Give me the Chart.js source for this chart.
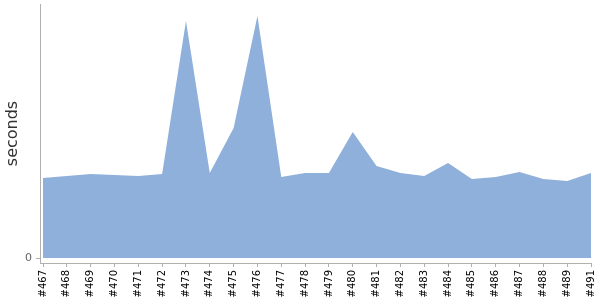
<!DOCTYPE html>
<html>
<head>
<meta charset="utf-8">
<script src="https://cdn.jsdelivr.net/npm/chart.js@4"></script>
<style>
  html, body { margin: 0; padding: 0; background: #fff; }
  #wrap { width: 600px; height: 300px; }
</style>
</head>
<body>
<div id="wrap"><canvas id="buildChart"></canvas></div>
<script>
// build durations (#490 is not in the list)
const buildLabels = ['#467', '#468', '#469', '#470', '#471', '#472', '#473', '#474',
    '#475', '#476', '#477', '#478', '#479', '#480', '#481', '#482', '#483', '#484',
    '#485', '#486', '#487', '#488', '#489', '#491'];
const buildSeconds = [80, 82, 84, 83, 82, 84, 237, 85, 130, 242, 81, 85, 85, 126,
    92, 85, 82, 95, 79, 81, 86, 79, 77, 85];
const yTicks = [0];

const fillColor = 'rgb(143, 176, 218)';
const axisColor = '#b0b0b0';

const points = buildSeconds.map((v, i) => ({ x: i, y: v }));

const ctx = document.getElementById('buildChart').getContext('2d');

const buildChart = new Chart(ctx, {
    type: 'line',
    data: {
        datasets: [{
            label: 'seconds',
            data: points,
            backgroundColor: fillColor,
            borderColor: fillColor,
            borderWidth: 0,
            pointRadius: 0,
            fill: 'origin',
            tension: 0
        }]
    },
    options: {
        responsive: true,
        maintainAspectRatio: false,
        animation: false,
        layout: { padding: { top: 4, right: 9, left: 0, bottom: 0 } },
        plugins: {
            legend: { display: false },
            tooltip: { enabled: false }
        },
        scales: {
            x: {
                type: 'linear',
                min: -0.126,
                max: buildLabels.length - 1,
                afterBuildTicks: (scale) => {
                    scale.ticks = buildLabels.map((l, i) => ({ value: i }));
                },
                afterFit: (scale) => {
                    scale.height = 37;
                    scale.paddingLeft = 0;
                    scale.paddingRight = 0;
                },
                grid: {
                    display: true,
                    drawOnChartArea: false,
                    drawTicks: true,
                    tickLength: 4,
                    color: axisColor
                },
                border: { display: true, color: axisColor },
                ticks: {
                    autoSkip: false,
                    minRotation: 90,
                    maxRotation: 90,
                    padding: 3,
                    color: '#000',
                    font: { family: 'DejaVu Sans', size: 10 },
                    callback: (v) => buildLabels[v]
                }
            },
            y: {
                min: -5,
                max: 254,
                afterBuildTicks: (scale) => {
                    scale.ticks = yTicks.map(v => ({ value: v }));
                },
                afterFit: (scale) => {
                    scale.width = 40;
                    scale.paddingTop = 0;
                    scale.paddingBottom = 0;
                },
                grid: {
                    display: true,
                    drawOnChartArea: false,
                    drawTicks: true,
                    tickLength: 4,
                    color: axisColor
                },
                border: { display: true, color: axisColor },
                ticks: {
                    padding: 4,
                    color: '#666',
                    font: { family: 'DejaVu Sans', size: 11 }
                },
                title: {
                    display: true,
                    text: 'seconds',
                    color: '#333',
                    padding: { top: 3, bottom: 0 },
                    font: { family: 'DejaVu Sans', size: 16 }
                }
            }
        }
    }
});
</script>
</body>
</html>
